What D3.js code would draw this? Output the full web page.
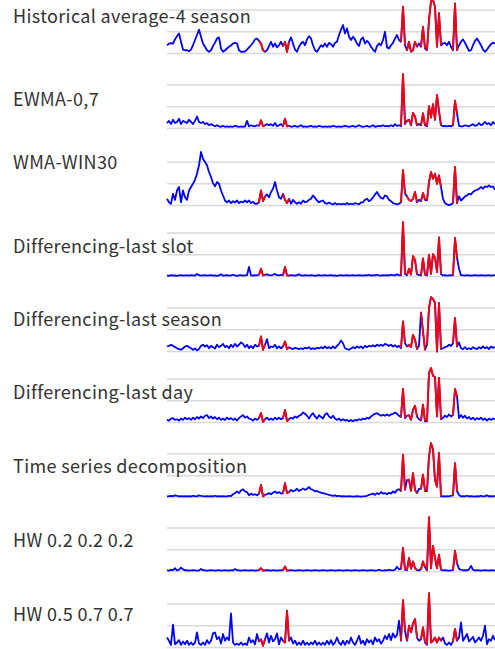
<!DOCTYPE html>
<html>
<head>
  <meta charset="utf-8">
  <title>Anomaly detection methods</title>
  <style>
    body { margin: 0; background: #fff; }
    svg { display: block; }
  </style>
</head>
<body>
  <script src="https://cdn.jsdelivr.net/npm/d3@7/dist/d3.min.js"></script>
  <script>
  // method names, one per row
  var methods = [
    "Historical average-4 season",
    "EWMA-0,7",
    "WMA-WIN30",
    "Differencing-last slot",
    "Differencing-last season",
    "Differencing-last day",
    "Time series decomposition",
    "HW 0.2 0.2 0.2",
    "HW 0.5 0.7 0.7"
  ];

  // series (one value per sample slot)
  var histAvg = [
    0.38,0.45,0.48,0.45,0.65,0.8,0.92,0.54,0.18,0.15,
    0.15,0.1,0.18,0.38,0.62,0.85,1.1,0.77,0.46,0.31,
    0.15,0.08,0.15,0.34,0.5,0.69,0.74,0.23,0.08,0.15,
    0.23,0.31,0.37,0.46,0.49,0.46,0.15,0.08,0.08,0.1,
    0.18,0.28,0.38,0.49,0.65,0.69,0.58,0.46,0.15,0.08,
    0.15,0.34,0.54,0.31,0.46,0.28,0.38,0.54,0.34,0.54,
    0.08,0.54,0.74,0.46,0.18,0.08,0.31,0.46,0.54,0.38,
    0.65,0.8,0.69,0.38,0.15,0.08,0.23,0.38,0.31,0.46,
    0.31,0.49,0.43,0.31,0.49,0.54,0.85,1.1,1.31,0.92,
    1.15,0.77,0.62,0.77,0.65,0.46,0.34,0.65,0.74,0.46,
    0.58,0.49,0.31,0.18,0.08,0.34,0.46,0.38,0.62,1.0,
    0.28,0.23,0.38,0.49,0.69,0.85,0.62,0.54,2.15,0.38,
    0.15,0.54,0.08,0.15,0.54,0.31,0.46,0.31,1.23,0.23,
    0.15,1.54,2.4,2.46,2.15,0.31,1.85,0.38,0.46,0.49,
    0.38,0.54,0.31,0.15,2.3,0.15,0.38,0.54,0.65,0.49,
    0.31,0.12,0.15,0.38,0.58,0.69,0.54,0.38,0.18,0.08,
    0.18,0.31,0.43,0.49,0.46
  ];
  var ewma = [
    0.25,0.35,0.2,0.4,0.25,0.3,0.45,0.2,0.35,0.3,
    0.25,0.4,0.3,0.2,0.35,0.55,0.3,0.25,0.3,0.2,
    0.25,0.15,0.2,0.15,0.1,0.15,0.1,0.08,0.12,0.08,
    0.1,0.08,0.1,0.08,0.12,0.1,0.08,0.1,0.08,0.1,
    0.35,0.1,0.15,0.12,0.1,0.15,0.12,0.38,0.1,0.15,
    0.2,0.15,0.2,0.12,0.25,0.1,0.15,0.2,0.1,0.45,
    0.1,0.12,0.08,0.1,0.12,0.08,0.1,0.15,0.08,0.1,
    0.08,0.1,0.12,0.08,0.1,0.08,0.12,0.1,0.08,0.1,
    0.08,0.1,0.08,0.12,0.1,0.08,0.1,0.08,0.1,0.12,
    0.1,0.08,0.1,0.12,0.08,0.1,0.15,0.1,0.08,0.1,
    0.12,0.08,0.1,0.15,0.08,0.1,0.12,0.1,0.15,0.1,
    0.12,0.1,0.15,0.1,0.2,0.12,0.15,0.1,2.5,0.2,
    0.35,0.4,0.15,0.72,0.55,0.15,0.2,0.15,0.7,0.15,
    0.1,1.03,0.5,1.12,0.4,1.54,0.8,0.15,0.1,0.12,
    0.1,0.12,0.1,0.15,1.28,0.7,0.12,0.1,0.1,0.15,
    0.12,0.1,0.15,0.2,0.12,0.15,0.25,0.15,0.2,0.3,
    0.2,0.25,0.15,0.3,0.2
  ];
  var wma = [
    0.31,0.15,0.08,0.54,0.26,0.69,0.85,0.15,0.69,0.38,
    0.26,0.69,0.85,1.0,1.18,1.46,1.85,2.46,2.15,2.0,
    1.85,1.54,1.31,1.03,0.88,1.08,1.0,0.69,0.46,0.23,
    0.15,0.23,0.11,0.2,0.14,0.23,0.11,0.18,0.14,0.23,
    0.15,0.23,0.11,0.17,0.08,0.08,0.15,0.69,0.2,0.42,
    0.51,0.38,0.62,0.77,1.08,0.69,0.38,0.31,0.54,0.26,
    0.11,0.31,0.08,0.26,0.15,0.08,0.15,0.08,0.23,0.15,
    0.18,0.26,0.31,0.46,0.35,0.23,0.15,0.2,0.23,0.11,
    0.08,0.14,0.08,0.05,0.11,0.05,0.08,0.05,0.08,0.05,
    0.11,0.05,0.08,0.05,0.11,0.08,0.05,0.14,0.15,0.26,
    0.31,0.2,0.26,0.38,0.51,0.62,0.46,0.35,0.31,0.46,
    0.42,0.26,0.2,0.11,0.08,0.05,0.08,0.15,1.62,0.54,
    0.42,0.26,0.2,0.31,0.62,0.15,0.26,0.2,0.57,0.26,
    0.23,1.08,1.54,1.23,1.46,1.0,1.38,0.85,0.31,0.11,
    0.05,0.02,0.05,0.11,1.77,0.11,0.42,0.23,0.31,0.42,
    0.46,0.54,0.51,0.62,0.69,0.72,0.77,0.85,0.77,0.88,
    0.85,0.92,0.85,0.88,0.72
  ];
  var diffSlot = [
    0.05,0.03,0.06,0.04,0.05,0.03,0.05,0.06,0.04,0.05,
    0.05,0.04,0.06,0.05,0.04,0.12,0.06,0.04,0.05,0.06,
    0.04,0.05,0.06,0.04,0.05,0.03,0.05,0.1,0.04,0.05,
    0.06,0.04,0.05,0.08,0.05,0.03,0.05,0.06,0.04,0.05,
    0.06,0.44,0.05,0.04,0.06,0.05,0.08,0.36,0.05,0.08,
    0.1,0.06,0.05,0.08,0.12,0.06,0.05,0.08,0.06,0.44,
    0.05,0.04,0.06,0.05,0.04,0.06,0.1,0.05,0.04,0.06,
    0.05,0.04,0.06,0.05,0.03,0.05,0.06,0.04,0.05,0.06,
    0.04,0.05,0.06,0.04,0.05,0.03,0.05,0.06,0.04,0.05,
    0.06,0.04,0.05,0.06,0.04,0.05,0.06,0.05,0.04,0.06,
    0.05,0.08,0.04,0.06,0.05,0.08,0.05,0.04,0.06,0.05,
    0.06,0.05,0.08,0.06,0.05,0.1,0.06,0.05,2.5,0.12,
    0.06,0.36,0.08,0.94,0.75,0.1,0.08,0.05,0.83,0.08,
    0.05,1.0,0.12,1.03,0.87,0.2,1.8,0.1,0.05,0.06,
    0.04,0.05,0.06,0.05,1.77,0.87,0.36,0.06,0.05,0.04,
    0.06,0.05,0.04,0.05,0.06,0.05,0.04,0.06,0.05,0.04,
    0.05,0.06,0.04,0.05,0.06
  ];
  var diffSeason = [
    0.23,0.26,0.31,0.26,0.2,0.15,0.11,0.08,0.15,0.23,
    0.26,0.2,0.15,0.08,0.14,0.05,0.11,0.26,0.31,0.23,
    0.29,0.15,0.26,0.2,0.14,0.31,0.2,0.26,0.35,0.2,
    0.26,0.15,0.31,0.2,0.35,0.23,0.31,0.42,0.35,0.2,
    0.31,0.15,0.26,0.15,0.31,0.23,0.26,0.69,0.08,0.31,
    0.57,0.15,0.23,0.2,0.31,0.15,0.23,0.14,0.23,0.46,
    0.11,0.2,0.14,0.11,0.17,0.14,0.11,0.15,0.11,0.17,
    0.14,0.2,0.11,0.15,0.11,0.17,0.14,0.2,0.15,0.23,
    0.15,0.2,0.14,0.23,0.15,0.26,0.35,0.51,0.38,0.15,
    0.11,0.08,0.14,0.2,0.15,0.23,0.17,0.23,0.15,0.26,
    0.2,0.26,0.23,0.29,0.23,0.31,0.26,0.31,0.26,0.35,
    0.31,0.26,0.31,0.23,0.29,0.2,0.26,0.15,1.38,0.38,
    0.23,0.31,0.2,0.77,0.54,0.11,0.26,1.8,0.92,0.08,
    0.31,2.0,2.5,2.42,2.23,0.0,2.23,0.11,0.15,0.2,
    0.23,0.31,0.26,0.38,1.54,0.23,0.42,0.15,0.11,0.2,
    0.11,0.15,0.11,0.2,0.14,0.11,0.2,0.14,0.23,0.15,
    0.2,0.11,0.23,0.17,0.2
  ];
  var diffDay = [
    0.12,0.09,0.18,0.2,0.12,0.15,0.09,0.18,0.12,0.22,
    0.15,0.2,0.12,0.22,0.15,0.25,0.18,0.28,0.2,0.31,
    0.34,0.2,0.28,0.18,0.25,0.15,0.22,0.12,0.18,0.12,
    0.22,0.15,0.2,0.12,0.18,0.09,0.2,0.28,0.34,0.22,
    0.28,0.18,0.15,0.09,0.18,0.12,0.2,0.43,0.03,0.15,
    0.22,0.12,0.18,0.12,0.22,0.15,0.22,0.15,0.2,0.58,
    0.06,0.15,0.22,0.18,0.28,0.22,0.31,0.35,0.46,0.4,
    0.31,0.18,0.34,0.43,0.28,0.18,0.34,0.25,0.18,0.37,
    0.43,0.28,0.2,0.31,0.18,0.12,0.18,0.09,0.15,0.09,
    0.12,0.06,0.12,0.06,0.12,0.09,0.15,0.12,0.18,0.15,
    0.22,0.18,0.28,0.34,0.4,0.43,0.37,0.31,0.35,0.31,
    0.37,0.31,0.37,0.4,0.46,0.4,0.31,0.25,1.54,0.2,
    0.31,0.34,0.12,0.58,0.77,0.28,0.15,0.09,0.82,0.05,
    0.06,2.28,2.5,2.15,2.09,0.28,2.05,0.15,0.22,0.31,
    0.25,0.37,0.28,0.34,1.54,1.2,0.2,0.34,0.22,0.31,
    0.18,0.25,0.15,0.22,0.12,0.2,0.15,0.22,0.12,0.18,
    0.09,0.18,0.12,0.18,0.15
  ];
  var tsDecomp = [
    0.05,0.06,0.08,0.06,0.1,0.08,0.05,0.06,0.05,0.06,
    0.05,0.06,0.05,0.08,0.06,0.05,0.1,0.08,0.06,0.05,
    0.06,0.05,0.06,0.05,0.08,0.05,0.06,0.05,0.06,0.05,
    0.05,0.08,0.06,0.15,0.2,0.28,0.2,0.32,0.38,0.28,
    0.25,0.1,0.18,0.12,0.15,0.1,0.18,0.58,0.05,0.12,
    0.15,0.2,0.15,0.22,0.28,0.2,0.25,0.18,0.2,0.66,
    0.2,0.25,0.35,0.28,0.32,0.4,0.3,0.35,0.42,0.35,
    0.4,0.48,0.38,0.35,0.28,0.3,0.25,0.22,0.2,0.18,
    0.15,0.12,0.1,0.08,0.1,0.06,0.08,0.05,0.06,0.05,
    0.05,0.06,0.05,0.04,0.05,0.06,0.05,0.04,0.05,0.06,
    0.08,0.12,0.15,0.18,0.12,0.2,0.15,0.25,0.18,0.2,
    0.15,0.22,0.18,0.28,0.22,0.35,0.38,0.3,1.97,0.35,
    0.8,0.82,0.3,1.12,0.35,0.2,0.4,0.4,1.05,0.3,
    0.3,1.9,2.5,2.2,0.8,0.5,2.05,0.05,0.06,0.05,
    0.06,0.05,0.08,0.1,1.58,0.3,0.12,0.05,0.06,0.05,
    0.08,0.05,0.06,0.05,0.04,0.06,0.05,0.08,0.05,0.06,
    0.1,0.05,0.06,0.05,0.08
  ];
  var hwLow = [
    0.05,0.04,0.08,0.06,0.15,0.05,0.08,0.18,0.1,0.05,
    0.06,0.04,0.05,0.06,0.05,0.04,0.05,0.12,0.06,0.05,
    0.04,0.05,0.06,0.05,0.04,0.05,0.06,0.04,0.05,0.06,
    0.05,0.04,0.06,0.05,0.12,0.06,0.05,0.04,0.05,0.06,
    0.05,0.04,0.06,0.05,0.04,0.05,0.06,0.15,0.04,0.05,
    0.06,0.05,0.04,0.06,0.05,0.04,0.05,0.06,0.05,0.23,
    0.04,0.05,0.06,0.05,0.04,0.05,0.06,0.05,0.04,0.05,
    0.06,0.05,0.04,0.05,0.06,0.05,0.04,0.05,0.06,0.05,
    0.04,0.05,0.06,0.05,0.04,0.05,0.06,0.05,0.04,0.05,
    0.06,0.05,0.04,0.05,0.06,0.05,0.04,0.05,0.06,0.05,
    0.04,0.05,0.06,0.05,0.04,0.05,0.08,0.05,0.04,0.06,
    0.05,0.08,0.06,0.05,0.08,0.22,0.1,0.12,1.08,0.08,
    0.06,0.62,0.12,0.46,0.15,0.06,0.05,0.1,0.46,0.2,
    0.05,2.5,0.15,1.18,0.62,0.15,0.77,0.08,0.05,0.06,
    0.05,0.04,0.05,0.06,0.95,0.38,0.12,0.08,0.05,0.06,
    0.05,0.1,0.26,0.08,0.05,0.06,0.05,0.04,0.05,0.06,
    0.05,0.04,0.06,0.05,0.04
  ];
  var hwHigh = [
    0.46,0.31,0.12,1.05,0.15,0.23,0.34,0.12,0.28,0.15,
    0.31,0.12,0.23,0.12,0.22,0.69,0.18,0.12,0.23,0.12,
    0.34,0.18,0.31,0.65,0.69,0.38,0.49,0.18,0.62,0.31,
    0.46,0.34,1.57,0.23,0.12,0.18,0.12,0.23,0.12,0.18,
    0.12,0.46,0.23,0.34,0.15,0.62,0.28,0.38,0.08,0.38,
    0.65,0.23,0.54,0.28,0.38,0.65,0.15,0.46,0.31,0.23,
    1.69,0.31,0.46,0.18,0.31,0.12,0.23,0.12,0.31,0.12,
    0.22,0.12,0.23,0.15,0.31,0.12,0.23,0.12,0.22,0.12,
    0.31,0.15,0.34,0.12,0.23,0.46,0.22,0.12,0.31,0.12,
    0.31,0.18,0.46,0.23,0.12,0.31,0.54,0.18,0.31,0.12,
    0.38,0.23,0.34,0.15,0.46,0.28,0.38,0.18,0.31,0.54,
    0.38,0.62,0.34,0.65,0.46,0.58,1.23,0.31,2.18,0.77,
    0.31,1.0,0.69,1.11,1.31,0.46,0.31,0.38,0.92,0.23,
    0.12,2.5,0.23,0.31,0.46,0.23,0.46,0.31,0.46,0.18,
    0.12,0.23,0.12,0.28,0.85,0.31,0.46,1.15,0.31,0.46,
    0.62,0.28,0.38,0.49,0.23,0.34,0.46,0.31,0.54,1.0,
    0.15,0.38,0.31,0.54,0.34
  ];

  // ground-truth anomaly slots [first, last], drawn in red on every row
  var anomalies = [[47,48],[59,60],[118,118],[121,121],[123,124],[128,128],[131,136],[144,144]];

  // gridline values
  var gridTicks = [0, 1, 2];

  var seriesList = [histAvg, ewma, wma, diffSlot, diffSeason, diffDay, tsDecomp, hwLow, hwHigh];

  // layout
  var width = 495, height = 649;
  var plotLeft = 167, plotRight = 495;
  var rowTop = [10, 85, 162, 233, 308, 379, 454, 528, 604];   // y of top gridline
  var labelY = [23, 106, 169, 253, 326, 399, 473, 547, 621];  // label baselines
  var rowH = 43.5;

  var svg = d3.select("body").append("svg")
      .attr("width", width)
      .attr("height", height);

  var x = d3.scaleLinear()
      .domain([0, histAvg.length - 1])
      .range([plotLeft, plotRight]);

  seriesList.forEach(function (values, r) {
    var y = d3.scaleLinear()
        .domain([0, 2])
        .range([rowTop[r] + rowH, rowTop[r]]);

    var g = svg.append("g").attr("class", "row");

    // gridlines
    g.selectAll("line.grid")
      .data(gridTicks)
      .enter().append("line")
        .attr("class", "grid")
        .attr("x1", plotLeft)
        .attr("x2", plotRight)
        .attr("y1", function (d) { return y(d); })
        .attr("y2", function (d) { return y(d); })
        .attr("stroke", "#d9d9d9")
        .attr("stroke-width", 1.5);

    // label
    g.append("text")
      .attr("x", 13)
      .attr("y", labelY[r])
      .attr("font-family", "'Noto Sans CJK SC', 'Noto Sans', sans-serif")
      .attr("font-size", "18px")
      .attr("letter-spacing", "0.35px")
      .attr("fill", "#333")
      .text(methods[r]);

    var pts = values.map(function (v, i) { return [i, v]; });

    var line = d3.line()
        .x(function (d) { return x(d[0]); })
        .y(function (d) { return y(d[1]); });

    // full series in blue
    g.append("path")
      .datum(pts)
      .attr("fill", "none")
      .attr("stroke", "#0000ff")
      .attr("stroke-width", 1.8)
      .attr("stroke-linejoin", "round")
      .attr("d", line);

    // anomalous stretches in red, with the strokes into and out of them
    anomalies.forEach(function (a) {
      g.append("path")
        .datum(pts.slice(Math.max(0, a[0] - 1), a[1] + 2))
        .attr("fill", "none")
        .attr("stroke", "#ff0000")
        .attr("stroke-width", 1.8)
        .attr("stroke-linejoin", "round")
        .attr("d", line);
    });
  });
  </script>
</body>
</html>
